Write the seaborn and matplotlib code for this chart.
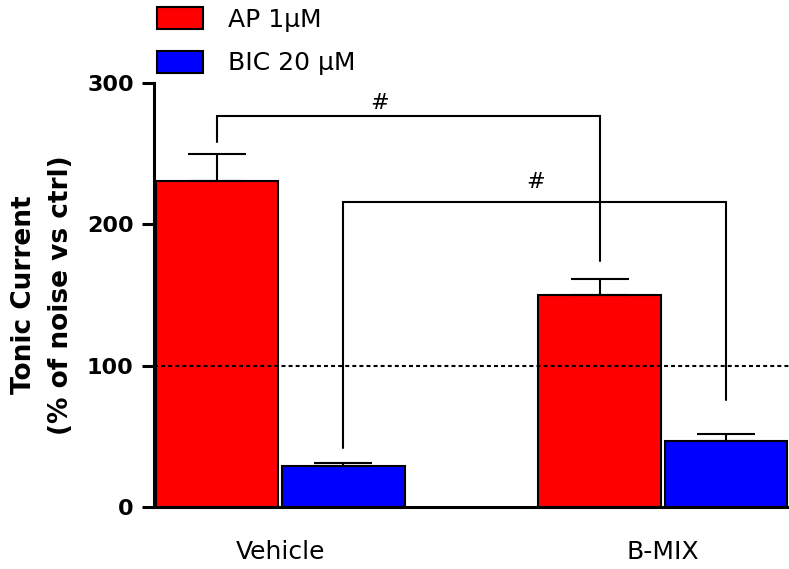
import matplotlib
matplotlib.use("Agg")
import matplotlib.pyplot as plt
import seaborn as sns
import pandas as pd

# ---- data ----
groups = ["Vehicle", "B-MIX"]
treatments = ["AP 1\u03bcM", "BIC 20 \u03bcM"]
ap_values = [231, 150]
bic_values = [29, 47]
ap_errors = [19, 11]
bic_errors = [2, 4.5]
yticks = [0, 100, 200, 300]
# significance brackets: (top, left leg bottom, right leg bottom)
bracket_ap = [277, 258, 174]
bracket_bic = [216, 42, 76]
sig_label = "#"

sns.set_theme(style="white")
plt.rcParams["font.family"] = ["DejaVu Sans"]
plt.rcParams["text.color"] = "black"
plt.rcParams["axes.labelcolor"] = "black"
plt.rcParams["xtick.color"] = "black"
plt.rcParams["ytick.color"] = "black"

df = pd.DataFrame({
    "group": groups * 2,
    "treatment": [treatments[0]] * 2 + [treatments[1]] * 2,
    "value": ap_values + bic_values,
})

fig = plt.figure(figsize=(7.89, 5.69), dpi=100)
ax = fig.add_axes([154 / 789, 1 - 507 / 569, 1 - 154 / 789, (507 - 83) / 569])

sns.barplot(data=df, x="group", y="value", hue="treatment", order=groups,
            hue_order=treatments, palette=["#FF0000", "#0000FF"],
            saturation=1, width=0.66, gap=0.03, errorbar=None,
            edgecolor="black", linewidth=1.5, ax=ax, zorder=2)

ax.set_xlim(-0.33, 1.33)
ax.set_ylim(0, 300)
ax.set_yticks(yticks)
ax.set_yticklabels([str(v) for v in yticks], fontsize=16, fontweight="bold")

# error bars (upper only)
centers = []
for cont, errs in zip(ax.containers, [ap_errors, bic_errors]):
    xs, ys = [], []
    for p in cont.patches:
        xs.append(p.get_x() + p.get_width() / 2)
        ys.append(p.get_height())
    centers.append(xs)
    ax.errorbar(xs, ys, yerr=[[0] * len(errs), errs], fmt="none",
                ecolor="black", elinewidth=1.5, capsize=21, capthick=1.5,
                zorder=3)

# reference line at 100
ax.axhline(100, color="black", lw=1.5, ls=(0, (1.9, 1.5)), zorder=4)

# brackets
def bracket(x1, x2, top, b1, b2):
    ax.plot([x1, x1, x2, x2], [b1, top, top, b2], color="black", lw=1.5,
            solid_joinstyle="miter", zorder=4, clip_on=False)

bracket(centers[0][0], centers[0][1], *bracket_ap)
bracket(centers[1][0], centers[1][1], *bracket_bic)
ax.text(0.26, 286, sig_label, ha="center", va="center", fontsize=16)
ax.text(0.667, 230, sig_label, ha="center", va="center", fontsize=16)

# axes styling
sns.despine(ax=ax, top=True, right=True)
for s in ["left", "bottom"]:
    ax.spines[s].set_linewidth(2.2)
    ax.spines[s].set_color("black")
ax.tick_params(axis="y", which="major", length=8.6, width=2.2, color="black",
               pad=6, left=True, direction="out")
ax.tick_params(axis="x", length=0, pad=24)
ax.set_xticklabels(groups, fontsize=18)
ax.set_xlabel("")
ax.set_ylabel("Tonic Current\n(% of noise vs ctrl)", fontsize=19,
              fontweight="bold", linespacing=1.55)
ax.yaxis.set_label_coords(-0.126, 0.5)

# legend
handles, labels = ax.get_legend_handles_labels()
ax.legend(handles, labels, loc="upper left",
          bbox_to_anchor=(157 / 789, 1 - 7 / 569),
          bbox_transform=fig.transFigure, frameon=False, fontsize=18,
          handlelength=1.85, handleheight=1.0, handletextpad=1.0,
          labelspacing=0.75, borderpad=0, borderaxespad=0)

fig.savefig("out.png", dpi=100)
